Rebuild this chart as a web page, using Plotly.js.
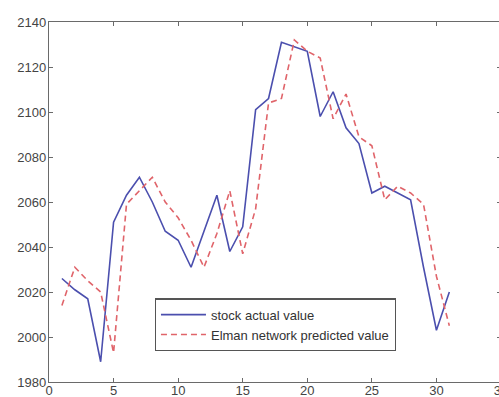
<!DOCTYPE html>
<html>
<head>
<meta charset="utf-8">
<script src="https://cdn.plot.ly/plotly-3.0.1.min.js"></script>
<style>html,body{margin:0;padding:0;overflow:hidden;background:#fff;}</style>
</head>
<body>
<div id="chart"></div>
<script>
const days = [1,2,3,4,5,6,7,8,9,10,11,12,13,14,15,16,17,18,19,20,21,22,23,24,25,26,27,28,29,30,31];
const actualValue = [2026,2021,2017,1989,2051,2063,2071,2060,2047,2043,2031,2047,2063,2038,2049,2101,2106,2131,2129,2127,2098,2109,2093,2086,2064,2067,2064,2061,2031,2003,2020];
const predictedValue = [2014,2031,2025,2020,1993,2059,2065,2071,2060,2053,2043,2031,2046,2065,2037,2057,2104,2106,2132,2127,2124,2097,2108,2089,2085,2061,2067,2064,2059,2027,2005];
const seriesNames = ["stock actual value", "Elman network predicted value"];
const xTicks = [0,5,10,15,20,25,30,35];
const yTicks = [1980,2000,2020,2040,2060,2080,2100,2120,2140];

const traces = [
  {x: days, y: actualValue, name: seriesNames[0], type: 'scatter', mode: 'lines',
   line: {color: '#4b4fae', width: 1.6}},
  {x: days, y: predictedValue, name: seriesNames[1], type: 'scatter', mode: 'lines',
   line: {color: '#e0646a', width: 1.6, dash: '6px,4px'}}
];

const tickFont = {family: 'Liberation Sans, Arial, sans-serif', size: 13, color: '#444'};
const axisCommon = {
  showgrid: false, zeroline: false, showline: true, linecolor: '#6a6a6a', linewidth: 1.2,
  mirror: 'ticks', ticks: 'inside', ticklen: 4, tickcolor: '#6a6a6a', tickwidth: 1,
  tickfont: tickFont
};

const layout = {
  width: 510, height: 397,
  margin: {l: 49, r: 9, t: 22, b: 15},
  paper_bgcolor: '#fff', plot_bgcolor: '#fff',
  showlegend: true,
  xaxis: Object.assign({}, axisCommon, {range: [0, 35], tickvals: xTicks, ticktext: xTicks.map(String),
    ticklabelstandoff: -4}),
  yaxis: Object.assign({}, axisCommon, {range: [1980, 2140], tickvals: yTicks, ticktext: yTicks.map(String),
    ticklabelstandoff: -1}),
  legend: {
    x: 0.234, y: 0.232, xanchor: 'left', yanchor: 'top',
    bgcolor: '#fff', bordercolor: '#555', borderwidth: 1.2,
    font: {family: 'Liberation Sans, Arial, sans-serif', size: 13, color: '#333'},
    itemwidth: 45, tracegroupgap: 0
  }
};

Plotly.newPlot('chart', traces, layout, {displayModeBar: false, staticPlot: true});
</script>
</body>
</html>
